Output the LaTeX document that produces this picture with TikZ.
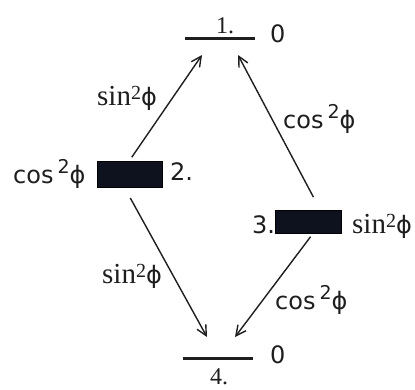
\documentclass[tikz,border=0pt]{standalone}
\usepackage{fontspec}
\setmainfont{DejaVu Sans}
\newfontfamily\serifnum{Liberation Serif}
\newfontfamily\grk{DejaVu Sans}
\usetikzlibrary{arrows.meta,positioning}
\definecolor{barfill}{RGB}{14,18,30}
\definecolor{ink}{RGB}{30,30,30}
\newcommand{\phisym}{{\grk\fontsize{24}{24}\selectfont ϕ}}
\newcommand{\sinsq}{{\serifnum\fontsize{29}{29}\selectfont sin\raisebox{6pt}{\fontsize{20}{20}\selectfont 2}}\phisym}
\newcommand{\cossq}{{\fontsize{24}{24}\selectfont cos\,\raisebox{10pt}{\fontsize{19}{19}\selectfont 2}}\phisym}
\newcommand{\bigtxt}{\fontsize{24}{24}\selectfont}
\newcommand{\smalltxt}{\serifnum\fontsize{24}{24}\selectfont}

\begin{document}
\begin{tikzpicture}[x=1pt, y=-1pt,
  lvl/.style={minimum width=70pt, minimum height=0pt, inner sep=0pt},
  bar/.style={draw=black, fill=barfill, line width=1pt, minimum width=65pt, minimum height=26pt, inner sep=0pt},
  lab/.style={anchor=base west, inner sep=0pt, text=ink},
  arr/.style={-{Straight Barb[length=10pt, width=10pt]}, line width=1.4pt, draw=ink}
]
\useasboundingbox (0,0) rectangle (415,389);
% levels
\node[lvl] (l1) at (220,38.5) {};
\node[lvl] (l4) at (218,358.5) {};
\draw[line width=2.5pt, ink] (l1.west) -- (l1.east);
\draw[line width=2.5pt, ink] (l4.west) -- (l4.east);
\node[lab] (n1) at (216,33) {\smalltxt 1.};
\node[lab] (z1) at (270,42) {\bigtxt 0};
\node[lab] (n4) at (210,384) {\smalltxt 4.};
\node[lab] (z4) at (270,363) {\bigtxt 0};
% bars
\node[bar] (s2) at (129.5,174) {};
\node[bar, minimum width=66pt, minimum height=23pt] (s3) at (308,221.5) {};
\node[lab] (n2) at (170,180) {\bigtxt 2.};
\node[lab] (n3) at (252,233) {\bigtxt 3.};
\node[lab] (w2) at (13,183) {\cossq};
\node[lab] (w3) at (352,233) {\sinsq};
% transitions
\coordinate (e21) at (202,55);
\coordinate (e31) at (238,55);
\coordinate (e24) at (207,337);
\coordinate (e34) at (235,337);
\draw[arr, shorten <=4pt] (s2.north) -- (e21);
\draw[arr, shorten <=14pt] ([xshift=12pt]s3.north) -- (e31);
\draw[arr, shorten <=12pt] ([xshift=-5pt]s2.south) -- (e24);
\draw[arr, shorten <=4pt] ([xshift=5pt]s3.south) -- (e34);
\node[lab] (p21) at (97,105) {\sinsq};
\node[lab] (p31) at (283,128) {\cossq};
\node[lab] (p24) at (102,283) {\sinsq};
\node[lab] (p34) at (275,309) {\cossq};
\end{tikzpicture}
\end{document}
